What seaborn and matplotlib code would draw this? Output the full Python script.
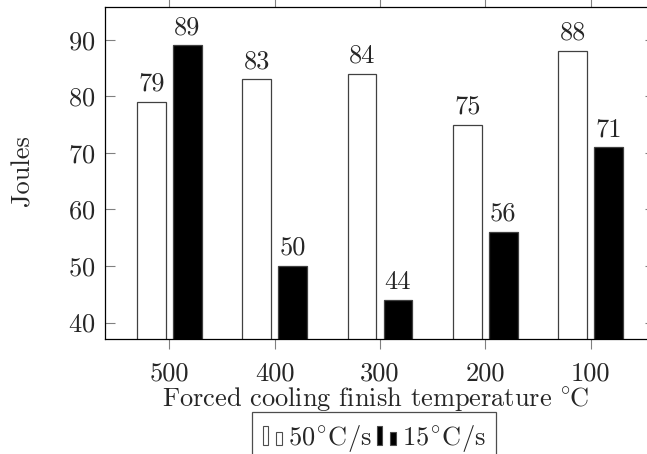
import matplotlib
matplotlib.use("Agg")
import matplotlib.pyplot as plt
from matplotlib.patches import Rectangle
from matplotlib.legend_handler import HandlerBase
import pandas as pd
import seaborn as sns

# data
temps = ["500", "400", "300", "200", "100"]
rate_50 = [79, 83, 84, 75, 88]
rate_15 = [89, 50, 44, 56, 71]
rates = [r"$50^{\!\circ}\hspace{-0.1}\mathrm{C/s}$",
         r"$15^{\!\circ}\hspace{-0.1}\mathrm{C/s}$"]
bar_colors = ["white", "black"]

df = pd.DataFrame({
    "temp": temps * 2,
    "joules": rate_50 + rate_15,
    "rate": [rates[0]] * len(temps) + [rates[1]] * len(temps),
})

sns.set_style("ticks")
plt.rcParams.update({
    "font.family": ["cmr10", "DejaVu Serif"],
    "mathtext.fontset": "cm",
    "axes.formatter.use_mathtext": True,
    "font.size": 19,
})


class TwoBarHandler(HandlerBase):
    # pgfplots style ybar legend image: two little bars
    def create_artists(self, legend, orig_handle, xdescent, ydescent,
                       width, height, fontsize, trans):
        fc = orig_handle.get_facecolor()
        x0, y0 = -xdescent, -ydescent
        r1 = Rectangle((x0, y0), 0.22 * fontsize, 0.73 * fontsize,
                       facecolor=fc, edgecolor="0.3", lw=0.8, transform=trans)
        r2 = Rectangle((x0 + 0.5 * fontsize, y0), 0.25 * fontsize, 0.5 * fontsize,
                       facecolor=fc, edgecolor="0.3", lw=0.8, transform=trans)
        return [r1, r2]


fig = plt.figure(figsize=(6.47, 4.54), dpi=100)
ax = fig.add_axes([105 / 647, 115 / 454, 550 / 647, 332 / 454])

sns.barplot(data=df, x="temp", y="joules", hue="rate", order=temps,
            hue_order=rates, palette=bar_colors, edgecolor="0.25",
            linewidth=0.9, width=0.68, gap=0.2, legend=False, ax=ax)

for cont in ax.containers:
    ax.bar_label(cont, padding=4.5, fontsize=19)

ax.set_xlim(-0.61, 4.61)
ax.set_ylim(37.1, 95.8)
ax.set_yticks([40, 50, 60, 70, 80, 90])

for s in ax.spines.values():
    s.set_visible(True)
    s.set_color("black")
    s.set_linewidth(0.9)

ax.tick_params(axis="x", direction="out", top=True, bottom=True,
               labeltop=False, length=7.2, width=0.8, color="0.5", pad=9)
ax.tick_params(axis="y", direction="in", left=True, right=True,
               length=7.2, width=0.8, color="0.5", pad=7)

ax.set_xlabel(r"Forced cooling finish temperature $^{\circ}\hspace{-0.1}\mathrm{C}$")
ax.set_ylabel("Joules")
ax.xaxis.set_label_coords(0.491, -0.14)
ax.yaxis.set_label_coords(-0.129, 0.506)

handles = [Rectangle((0, 0), 1, 1, facecolor=c) for c in bar_colors]
leg = fig.legend(handles, rates, loc="upper center",
                 bbox_to_anchor=(374 / 647, 1 - 412 / 454),
                 bbox_transform=fig.transFigure, ncol=2, frameon=True,
                 fancybox=False, edgecolor="0.3", framealpha=1,
                 borderaxespad=0, borderpad=0.42, handlelength=0.8,
                 handletextpad=0.15, columnspacing=0.2, fontsize=19,
                 handler_map={Rectangle: TwoBarHandler()})
leg.get_frame().set_linewidth(0.9)

fig.savefig("out.png", dpi=100)
